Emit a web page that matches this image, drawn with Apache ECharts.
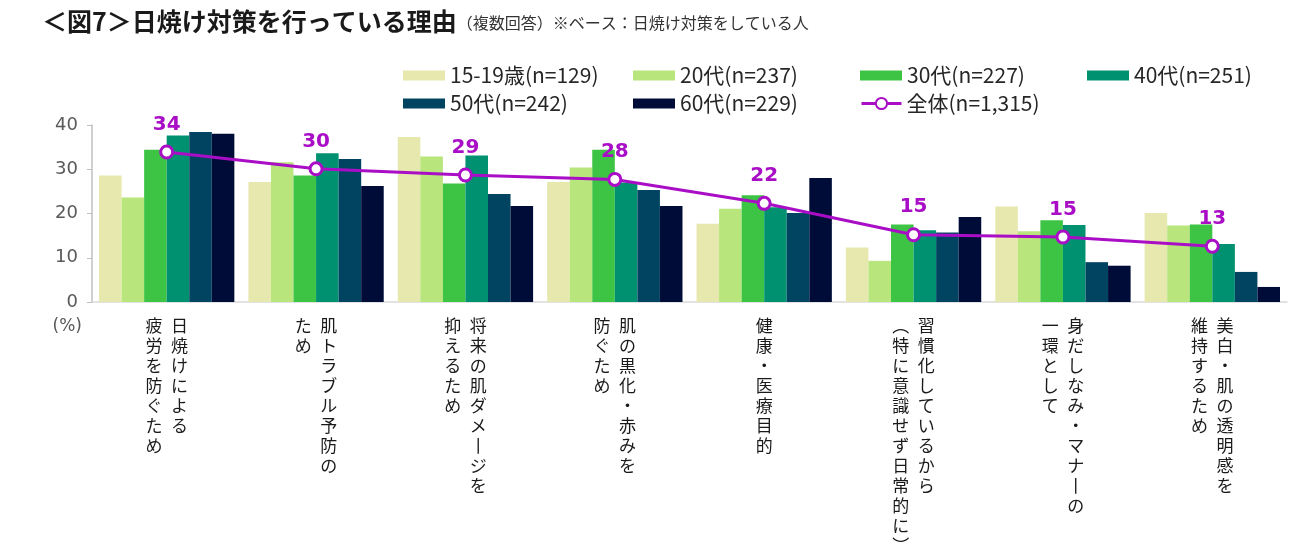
<!DOCTYPE html>
<html>
<head>
<meta charset="utf-8">
<script src="https://cdn.jsdelivr.net/npm/echarts@6/dist/echarts.min.js"></script>
<style>
  html, body { margin: 0; padding: 0; background: #fff; }
  #chart { width: 1300px; height: 559px; }
</style>
</head>
<body>
<div id="chart"></div>
<script>
// categories: '\n' separates the vertical columns (first = rightmost)
const categories = [
  '日焼けによる\n疲労を防ぐため',
  '肌トラブル予防の\nため',
  '将来の肌ダメージを\n抑えるため',
  '肌の黒化・赤みを\n防ぐため',
  '健康・医療目的',
  '習慣化しているから\n（特に意識せず日常的に）',
  '身だしなみ・マナーの\n一環として',
  '美白・肌の透明感を\n維持するため'
];

const seriesNames = ['15-19歳(n=129)', '20代(n=237)', '30代(n=227)', '40代(n=251)', '50代(n=242)', '60代(n=229)'];
const totalName = '全体(n=1,315)';

const age15 = [28.6, 27.1, 37.3, 27.1, 17.7, 12.3, 21.6, 20.1];
const age20 = [23.6, 31.6, 32.9, 30.4, 21.1, 9.3, 16.0, 17.3];
const age30 = [34.4, 28.6, 26.8, 34.4, 24.1, 17.5, 18.5, 17.5];
const age40 = [37.6, 33.6, 33.1, 27.0, 21.4, 16.2, 17.4, 13.1];
const age50 = [38.4, 32.3, 24.4, 25.3, 20.1, 15.7, 9.0, 6.8];
const age60 = [38.0, 26.2, 21.7, 21.7, 28.0, 19.2, 8.2, 3.4];
const total = [33.9, 30.1, 28.7, 27.7, 22.3, 15.2, 14.7, 12.6];

const barColors = ['#e6e8ae', '#b8e57c', '#3ec445', '#009270', '#004462', '#000c38'];
const lineColor = '#a90ec6';

// vertical writing: swap to vertical presentation forms
const VERT = { 'ー': '丨', '（': '︵', '）': '︶' };
function toVertical(text) {
  const cols = text.split('\n').map(s => Array.from(s).map(c => VERT[c] || c));
  const n = Math.max(...cols.map(c => c.length));
  const lines = [];
  for (let i = 0; i < n; i++) {
    lines.push(cols.map(c => c[i] || '\u3000').reverse().join('\u2002'));
  }
  return lines.join('\n');
}

const barData = [age15, age20, age30, age40, age50, age60];
const series = barData.map((d, i) => ({
  name: seriesNames[i],
  type: 'bar',
  data: d,
  barGap: '0%',
  barCategoryGap: '9.4%',
  itemStyle: { color: barColors[i] },
  emphasis: { disabled: true }
}));
series.push({
  name: totalName,
  type: 'line',
  data: total,
  z: 5,
  symbol: 'circle',
  symbolSize: 12,
  lineStyle: { color: lineColor, width: 3 },
  itemStyle: { color: '#fff', borderColor: lineColor, borderWidth: 3 },
  label: {
    show: true,
    position: 'top',
    distance: 10,
    color: lineColor,
    fontSize: 20,
    fontWeight: 'bold',
    fontFamily: 'DejaVu Sans',
    formatter: p => Math.round(p.value)
  },
  emphasis: { disabled: true }
});

// legend laid out as a 4-column grid, one legend per item
const legendNames = seriesNames.concat([totalName]);
const legendCols = [398, 628, 855, 1082];
const legends = legendNames.map((name, i) => {
  const isLine = name === totalName;
  return {
    data: [name],
    left: legendCols[i % 4],
    top: i < 4 ? 60 : 88,
    itemWidth: isLine ? 40 : 42,
    itemHeight: isLine ? 14 : 10,
    icon: isLine ? undefined : 'rect',
    lineStyle: isLine ? { width: 3 } : undefined,
    textStyle: { color: '#262626', fontSize: 21, fontFamily: 'Noto Sans CJK JP' }
  };
});

const chart = echarts.init(document.getElementById('chart'));
chart.setOption({
  animation: false,
  title: {
    left: 37,
    top: 4,
    text: '{b|＜図7＞日焼け対策を行っている理由}{n|（複数回答）※ベース：日焼け対策をしている人}',
    textStyle: {
      fontWeight: 'normal',
      rich: {
        b: { fontSize: 25, fontWeight: 'bold', color: '#1a1a1a', fontFamily: 'Noto Sans CJK JP' },
        n: { fontSize: 16, fontWeight: 'normal', color: '#333', fontFamily: 'Noto Sans CJK JP', padding: [3, 0, 0, 0] }
      }
    }
  },
  legend: legends,
  grid: { left: 92, right: 13, top: 125, bottom: 257 },
  xAxis: {
    type: 'category',
    data: categories,
    axisLine: { lineStyle: { color: '#d9d9d9', width: 1.5 } },
    axisTick: { show: false },
    axisLabel: {
      interval: 0,
      margin: 14,
      color: '#1a1a1a',
      fontSize: 17,
      lineHeight: 20,
      fontFamily: 'Noto Sans CJK JP',
      verticalAlign: 'top',
      formatter: v => toVertical(v)
    }
  },
  yAxis: {
    type: 'value',
    min: 0, max: 40, interval: 10,
    name: '(%)',
    nameLocation: 'start',
    nameGap: 16,
    nameTextStyle: { color: '#595959', fontSize: 17, fontFamily: 'DejaVu Sans', align: 'right', padding: [0, 10, 0, 0] },
    axisLine: { show: true, lineStyle: { color: '#bfbfbf', width: 1.5 } },
    axisTick: { show: true, length: 5, lineStyle: { color: '#bfbfbf' } },
    splitLine: { show: false },
    axisLabel: { color: '#595959', fontSize: 18, fontFamily: 'DejaVu Sans', margin: 14 }
  },
  series: series
});
</script>
</body>
</html>
